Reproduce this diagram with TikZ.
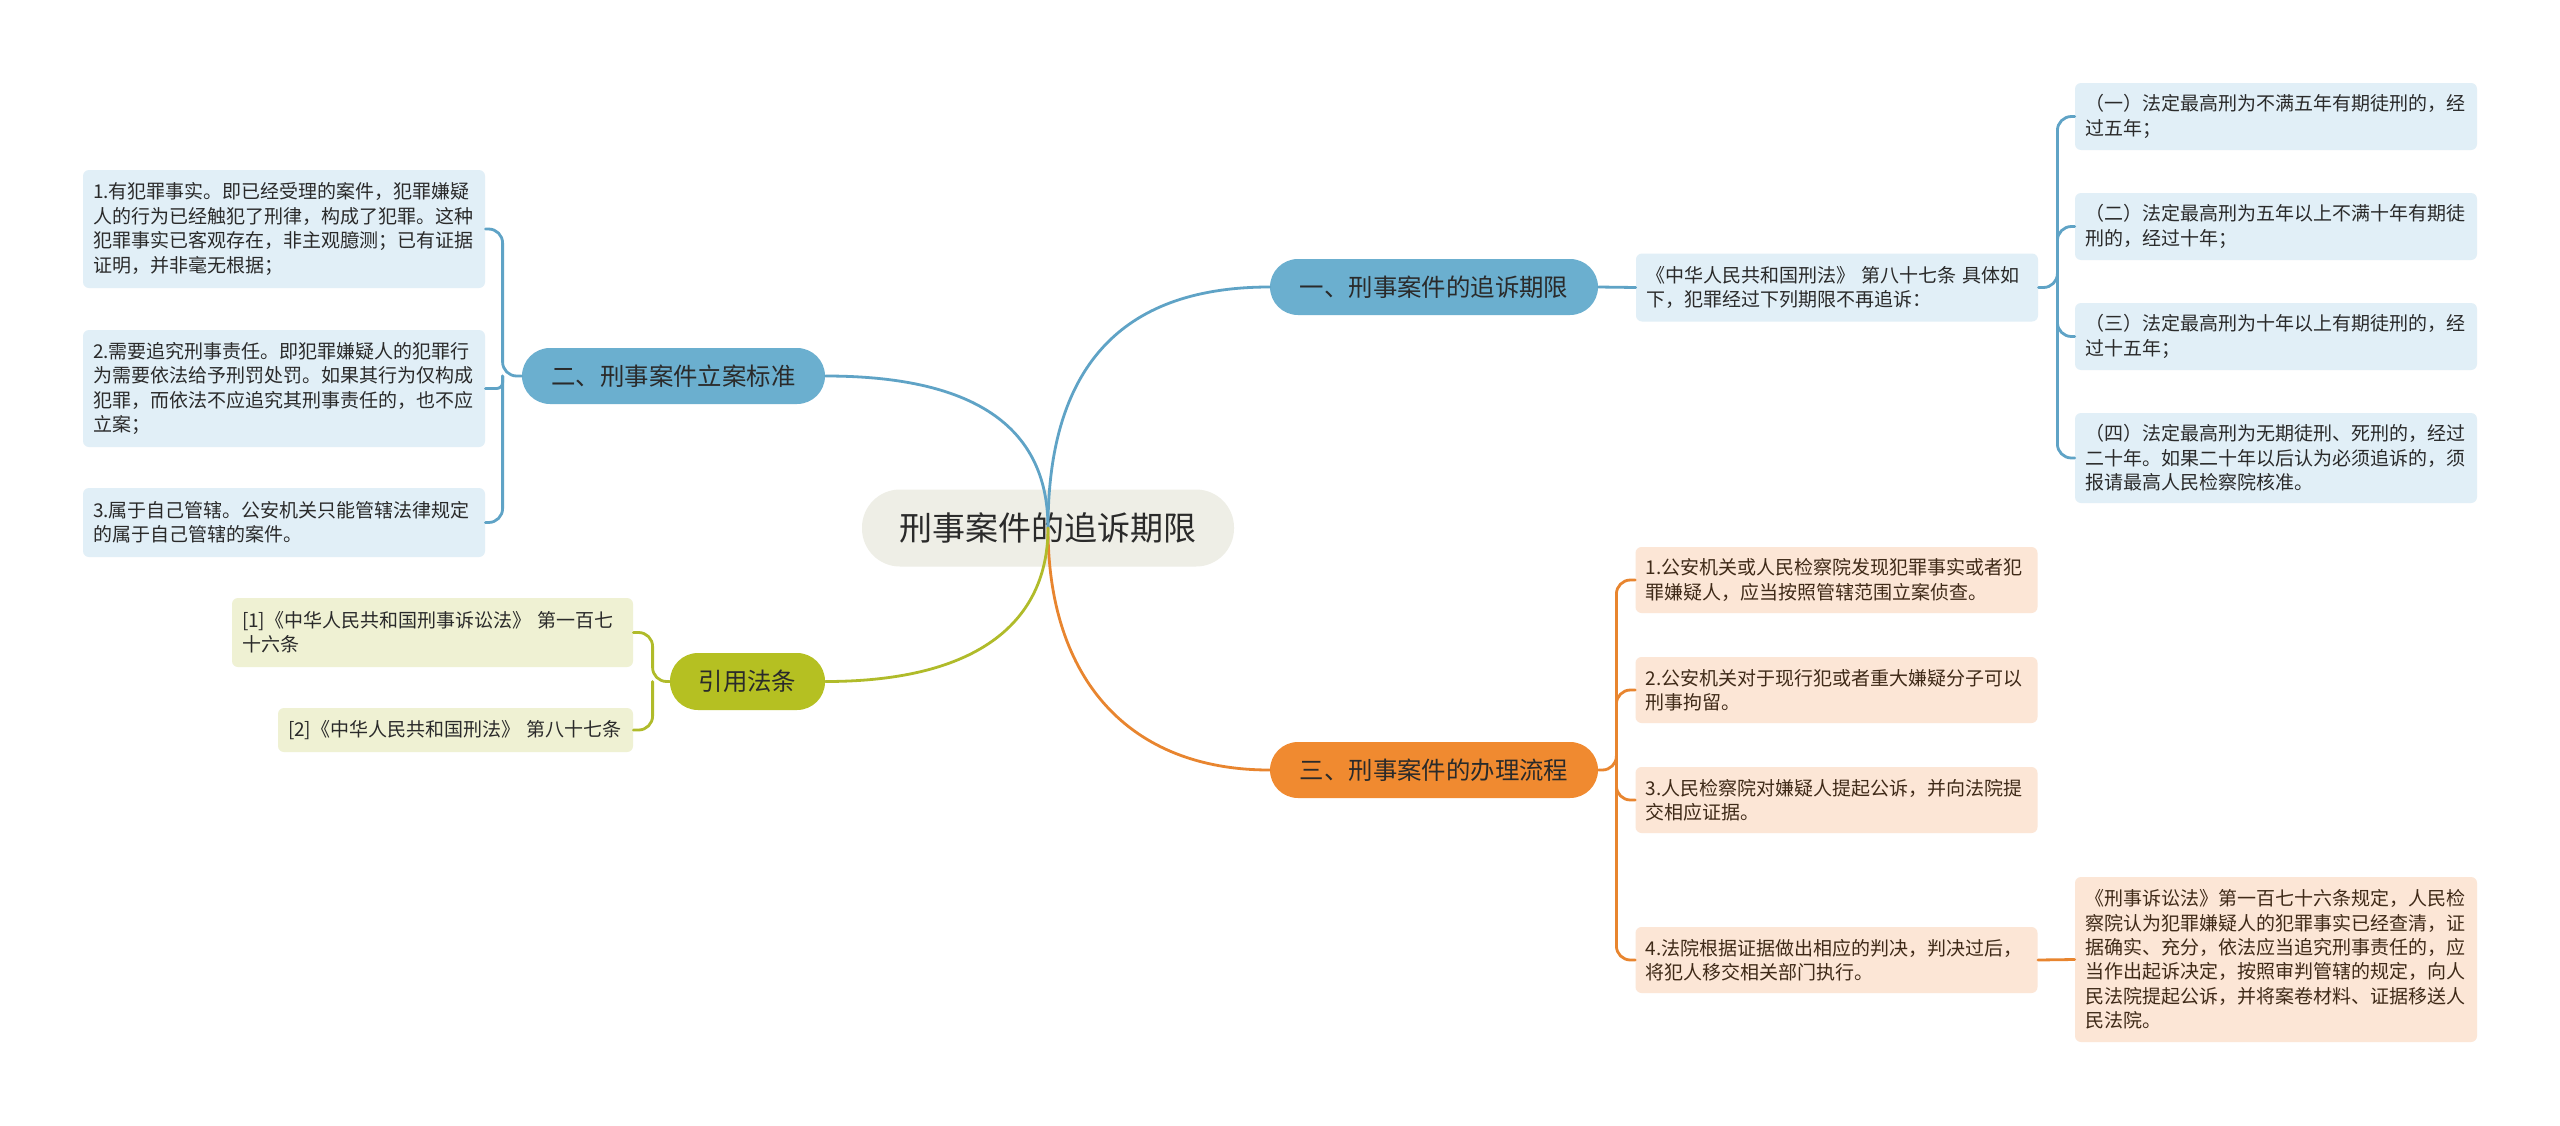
\documentclass[tikz,border=0pt]{standalone}
\usepackage{fontspec}
\setmainfont{Noto Sans CJK SC}
\usetikzlibrary{calc}
\definecolor{bfill}{HTML}{6BAFCF}
\definecolor{bline}{HTML}{5FA3C6}
\definecolor{bleaf}{HTML}{E1EFF7}
\definecolor{ofill}{HTML}{F08A30}
\definecolor{oline}{HTML}{E8852F}
\definecolor{oleaf}{HTML}{FCE6D6}
\definecolor{gfill}{HTML}{B5C022}
\definecolor{gline}{HTML}{B0BB2A}
\definecolor{gleaf}{HTML}{EFF1D3}
\definecolor{rootfill}{HTML}{EEEEE6}
\definecolor{darktext}{HTML}{2A2A2A}
\definecolor{browntext}{HTML}{3F2A18}
\newcommand{\myleaffont}{\fontsize{9.5pt}{12.2pt}\selectfont}
\newcommand{\mybranchfont}{\fontsize{12.2pt}{14pt}\selectfont}
\newcommand{\myrootfont}{\fontsize{16.5pt}{20pt}\selectfont}
\tikzset{
  leafbox/.style={rectangle, rounded corners=3pt, inner xsep=5pt, inner ysep=0pt,
    text width=191pt, align=left, font=\myleaffont, minimum height=#1},
  bleafbox/.style={leafbox=#1, fill=bleaf, text=darktext},
  oleafbox/.style={leafbox=#1, fill=oleaf, text=browntext},
  gleafbox/.style={leafbox=#1, fill=gleaf, text=darktext},
  pill/.style={rectangle, rounded corners=14pt, inner sep=0pt, minimum height=28pt,
    font=\mybranchfont, text=darktext},
  conn/.style={line width=1.4pt, line cap=round},
  bcon/.style={conn, draw=bline},
  ocon/.style={conn, draw=oline},
  gcon/.style={conn, draw=gline},
}
\begin{document}
\begin{tikzpicture}[x=0.5pt,y=-0.5pt]
\useasboundingbox (0,0) rectangle (2560,1125);
\fill[white] (0,0) rectangle (2560,1125);

% root
\node[rectangle, rounded corners=19pt, fill=rootfill, minimum width=186pt, minimum height=38.5pt,
  inner sep=0pt, font=\myrootfont, text=darktext] (root) at (1048,528) {刑事案件的追诉期限};

% branches
\node[pill, fill=bfill, minimum width=164pt] (b1) at (1434,287) {一、刑事案件的追诉期限};
\node[pill, fill=bfill, minimum width=151.5pt] (b2) at (673.5,376) {二、刑事案件立案标准};
\node[pill, fill=ofill, minimum width=164pt] (b3) at (1434,770) {三、刑事案件的办理流程};
\node[pill, fill=gfill, minimum width=77.5pt, minimum height=28.5pt] (b4) at (747.5,681.5) {引用法条};

% branch 1 children
\node[bleafbox=34pt] (m1) at (1837,287.5) {《中华人民共和国刑法》~第八十七条~具体如\\下，犯罪经过下列期限不再追诉：};
\node[bleafbox=33.5pt] (R1) at (2276,116.5) {（一）法定最高刑为不满五年有期徒刑的，经\\过五年；};
\node[bleafbox=33.5pt] (R2) at (2276,226.5) {（二）法定最高刑为五年以上不满十年有期徒\\刑的，经过十年；};
\node[bleafbox=33.5pt] (R3) at (2276,336.5) {（三）法定最高刑为十年以上有期徒刑的，经\\过十五年；};
\node[bleafbox=45pt] (R4) at (2276,458) {（四）法定最高刑为无期徒刑、死刑的，经过\\二十年。如果二十年以后认为必须追诉的，须\\报请最高人民检察院核准。};

% branch 2 children
\node[bleafbox=59pt] (L1) at (284,229) {1.有犯罪事实。即已经受理的案件，犯罪嫌疑\\人的行为已经触犯了刑律，构成了犯罪。这种\\犯罪事实已客观存在，非主观臆测；已有证据\\证明，并非毫无根据；};
\node[bleafbox=58.5pt] (L2) at (284,388.5) {2.需要追究刑事责任。即犯罪嫌疑人的犯罪行\\为需要依法给予刑罚处罚。如果其行为仅构成\\犯罪，而依法不应追究其刑事责任的，也不应\\立案；};
\node[bleafbox=34.5pt] (L3) at (284,522.5) {3.属于自己管辖。公安机关只能管辖法律规定\\的属于自己管辖的案件。};

% branch 3 children
\node[oleafbox=33pt] (O1) at (1836.5,580) {1.公安机关或人民检察院发现犯罪事实或者犯\\罪嫌疑人，应当按照管辖范围立案侦查。};
\node[oleafbox=33pt] (O2) at (1836.5,690) {2.公安机关对于现行犯或者重大嫌疑分子可以\\刑事拘留。};
\node[oleafbox=33pt] (O3) at (1836.5,800) {3.人民检察院对嫌疑人提起公诉，并向法院提\\交相应证据。};
\node[oleafbox=33pt] (O4) at (1836.5,960) {4.法院根据证据做出相应的判决，判决过后，\\将犯人移交相关部门执行。};
\node[oleafbox=82.5pt] (FR) at (2276,959.5) {《刑事诉讼法》第一百七十六条规定，人民检\\察院认为犯罪嫌疑人的犯罪事实已经查清，证\\据确实、充分，依法应当追究刑事责任的，应\\当作出起诉决定，按照审判管辖的规定，向人\\民法院提起公诉，并将案卷材料、证据移送人\\民法院。};

% branch 4 children
\node[gleafbox=34.5pt, text width=190.5pt] (G1) at (432.5,632.5) {[1]《中华人民共和国刑事诉讼法》~第一百七\\十六条};
\node[gleafbox=22pt, text width=167.5pt] (G2) at (455.5,730) {[2]《中华人民共和国刑法》~第八十七条};

% main connectors
\draw[bcon] (root.center) .. controls ($(root.center)+(0,-170)$) and ($(b1.west)+(-140,0)$) .. (b1.west);
\draw[bcon] (root.center) .. controls ($(root.center)+(0,-97)$) and ($(b2.east)+(155,0)$) .. (b2.east);
\draw[ocon] (root.center) .. controls ($(root.center)+(0,152)$) and ($(b3.west)+(-140,0)$) .. (b3.west);
\draw[gcon] (root.center) .. controls ($(root.center)+(0,92)$) and ($(b4.east)+(155,0)$) .. (b4.east);

% branch 1 brackets
\draw[bcon] (b1.east) -- (m1.west);
\coordinate (j1) at ($(m1.east)+(19,0)$);
\draw[bcon, rounded corners=7pt] (m1.east) -- (j1) |- (R1.west);
\draw[bcon, rounded corners=7pt] (j1) |- (R2.west);
\draw[bcon, rounded corners=7pt] (j1) |- (R3.west);
\draw[bcon, rounded corners=7pt] (j1) |- (R4.west);

% branch 2 brackets
\coordinate (j2) at ($(b2.west)+(-19,0)$);
\draw[bcon, rounded corners=7pt] (b2.west) -- (j2) |- (L1.east);
\draw[bcon, rounded corners=3pt] (j2) |- (L2.east);
\draw[bcon, rounded corners=7pt] (j2) |- (L3.east);

% branch 3 brackets
\coordinate (j3) at ($(b3.east)+(18,0)$);
\draw[ocon, rounded corners=7pt] (b3.east) -- (j3) |- (O1.west);
\draw[ocon, rounded corners=7pt] (j3) |- (O2.west);
\draw[ocon, rounded corners=7pt] (j3) |- (O3.west);
\draw[ocon, rounded corners=7pt] (j3) |- (O4.west);
\draw[ocon] (O4.east) -- (FR.west);

% branch 4 brackets
\coordinate (j4) at ($(b4.west)+(-17,0)$);
\draw[gcon, rounded corners=7pt] (b4.west) -- (j4) |- (G1.east);
\draw[gcon, rounded corners=7pt] (j4) |- (G2.east);
\end{tikzpicture}
\end{document}
